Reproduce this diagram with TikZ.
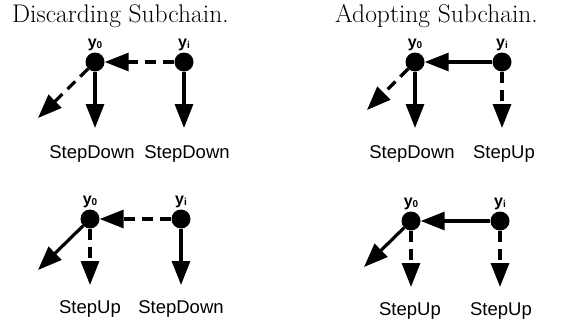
\documentclass[tikz,border=0pt]{standalone}
\usepackage{fontspec}
\setsansfont{Liberation Sans}
\usetikzlibrary{arrows.meta}

% bold variable name with a small bold subscript
\newcommand{\yvar}[1]{{\sffamily\bfseries\fontsize{16}{18}\selectfont y\raisebox{-1.5pt}{\fontsize{10}{11}\selectfont #1}}}

\tikzset{
  blk/.style={circle, fill=black, inner sep=0pt, minimum size=19pt},
  vlab/.style={anchor=base, inner sep=0pt},
  steplab/.style={anchor=base, inner sep=0pt, font=\sffamily\fontsize{18.5}{20}\selectfont},
  title/.style={anchor=base west, inner sep=0pt, font=\fontsize{25.5}{30}\selectfont},
  arr/.style={line width=3.2pt, -{Triangle[length=24pt, width=18pt]}},
  dsh/.style={arr, dash pattern=on 11pt off 7pt},
}

\begin{document}
\begin{tikzpicture}[x=1pt, y=-1pt]
\useasboundingbox (0,0) rectangle (581,327);

% ---------- titles ----------
\node[title] (t1) at (12,22.5) {Discarding Subchain.};
\node[title] (t2) at (335,22.5) {Adopting Subchain.};

% ---------- top left: discarding, both step down ----------
\node[blk] (a0) at (95,62) {};
\node[blk] (ai) at (184,62) {};
\node[vlab] (la0) at ([yshift=5pt]a0.north) {\yvar{0}};
\node[vlab] (lai) at ([yshift=5pt]ai.north) {\yvar{i}};
\coordinate (a0d) at (95,128);
\coordinate (aid) at (184,128);
\coordinate (a0g) at (38,118);
\draw[dsh] (ai) -- (a0);
\draw[arr] (a0) -- (a0d);
\draw[arr] (ai) -- (aid);
\draw[dsh] (a0) -- (a0g);
\node[steplab] (sa0) at (92,158) {StepDown};
\node[steplab] (sai) at (187,158) {StepDown};

% ---------- top right: adopting, step down / step up ----------
\node[blk] (b0) at (415,62) {};
\node[blk] (bi) at (502,62) {};
\node[vlab] (lb0) at ([yshift=5pt]b0.north) {\yvar{0}};
\node[vlab] (lbi) at ([yshift=5pt]bi.north) {\yvar{i}};
\coordinate (b0d) at (415,128);
\coordinate (bid) at (502,128);
\coordinate (b0g) at (367,110);
\draw[arr] (bi) -- (b0);
\draw[arr] (b0) -- (b0d);
\draw[dsh] (bi) -- (bid);
\draw[dsh] (b0) -- (b0g);
\node[steplab] (sb0) at (412,158) {StepDown};
\node[steplab] (sbi) at (504,158) {StepUp};

% ---------- bottom left: discarding, step up / step down ----------
\node[blk] (c0) at (90,219) {};
\node[blk] (ci) at (181,219) {};
\node[vlab] (lc0) at ([yshift=5pt]c0.north) {\yvar{0}};
\node[vlab] (lci) at ([yshift=5pt]ci.north) {\yvar{i}};
\coordinate (c0d) at (90,285);
\coordinate (cid) at (181,285);
\coordinate (c0g) at (38,270);
\draw[dsh] (ci) -- (c0);
\draw[dsh] (c0) -- (c0d);
\draw[arr] (ci) -- (cid);
\draw[arr] (c0) -- (c0g);
\node[steplab] (sc0) at (90,313) {StepUp};
\node[steplab] (sci) at (181,313) {StepDown};

% ---------- bottom right: adopting, both step up ----------
\node[blk] (d0) at (411,221) {};
\node[blk] (di) at (500,221) {};
\node[vlab] (ld0) at ([yshift=5pt]d0.north) {\yvar{0}};
\node[vlab] (ldi) at ([yshift=5pt]di.north) {\yvar{i}};
\coordinate (d0d) at (411,287);
\coordinate (did) at (500,287);
\coordinate (d0g) at (364,267);
\draw[arr] (di) -- (d0);
\draw[dsh] (d0) -- (d0d);
\draw[dsh] (di) -- (did);
\draw[arr] (d0) -- (d0g);
\node[steplab] (sd0) at (410,315) {StepUp};
\node[steplab] (sdi) at (501,315) {StepUp};
\end{tikzpicture}
\end{document}
